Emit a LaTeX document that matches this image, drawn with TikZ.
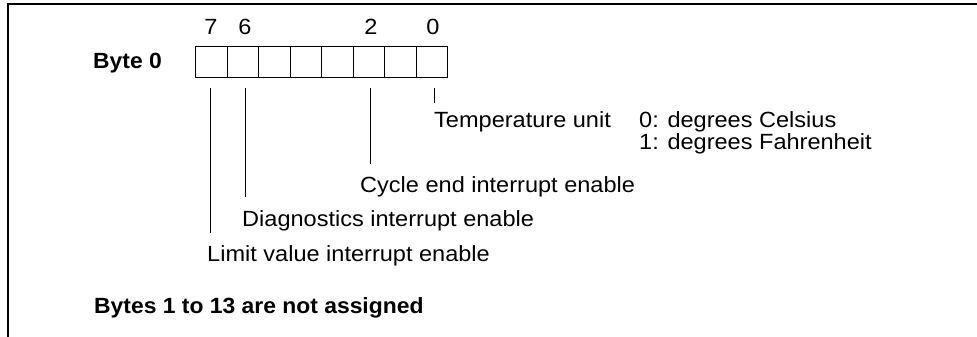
\documentclass[tikz,border=0pt]{standalone}
\usepackage{fontspec}
\setmainfont{Liberation Sans}[FakeStretch=1.07,BoldFeatures={FakeStretch=1.04}]
\begin{document}
\begin{tikzpicture}[x=1pt,y=-1pt,
  lbl/.style={anchor=base west,inner sep=0pt,font=\fontsize{22}{26}\selectfont},
  blbl/.style={anchor=base west,inner sep=0pt,font=\fontsize{22}{26}\selectfont\bfseries},
  digit/.style={anchor=base,inner sep=0pt,font=\fontsize{22}{26}\selectfont},
  cell/.style={draw,line width=1.3pt,minimum width=31.5pt,minimum height=31pt,inner sep=0pt,anchor=north west},
  lead/.style={line width=1pt},
  frame/.style={line width=2pt}]
\useasboundingbox (0,0) rectangle (977,337);
% frame
\coordinate (fbl) at (8,337);
\coordinate (ftl) at (8,4);
\coordinate (ftr) at (977,4);
\draw[frame] (fbl) -- (ftl) -- (ftr);
% byte cells
\foreach \i [count=\k from 0] in {7,6,5,4,3,2,1,0}
  \node[cell] (c\i) at ({195+31.5*\k},46) {};
% bit numbers
\node[digit] (n7) at (211,35) {7};
\node[digit] (n6) at (245,35) {6};
\node[digit] (n2) at (371,35) {2};
\node[digit] (n0) at (433,35) {0};
% labels
\node[blbl] (byte) at (93,68) {Byte 0};
\node[lbl] (temp) at (434,127) {Temperature unit};
\node[lbl] (cel) at (639,127) {0: degrees Celsius};
\node[lbl] (fah) at (639,149) {1: degrees Fahrenheit};
\node[lbl] (cyc) at (360,192) {Cycle end interrupt enable};
\node[lbl] (diag) at (242,226) {Diagnostics interrupt enable};
\node[lbl] (lim) at (207,261) {Limit value interrupt enable};
\node[blbl] (rest) at (94,313) {Bytes 1 to 13 are not assigned};
% leader lines
\coordinate (l7t) at (210,88);  \coordinate (l7b) at (210,233);
\coordinate (l6t) at (245,88);  \coordinate (l6b) at (245,197);
\coordinate (l2t) at (370,88);  \coordinate (l2b) at (370,164);
\coordinate (l0t) at (434,88);  \coordinate (l0b) at (434,103);
\draw[lead] (l7t) -- (l7b);
\draw[lead] (l6t) -- (l6b);
\draw[lead] (l2t) -- (l2b);
\draw[lead] (l0t) -- (l0b);
\end{tikzpicture}
\end{document}
